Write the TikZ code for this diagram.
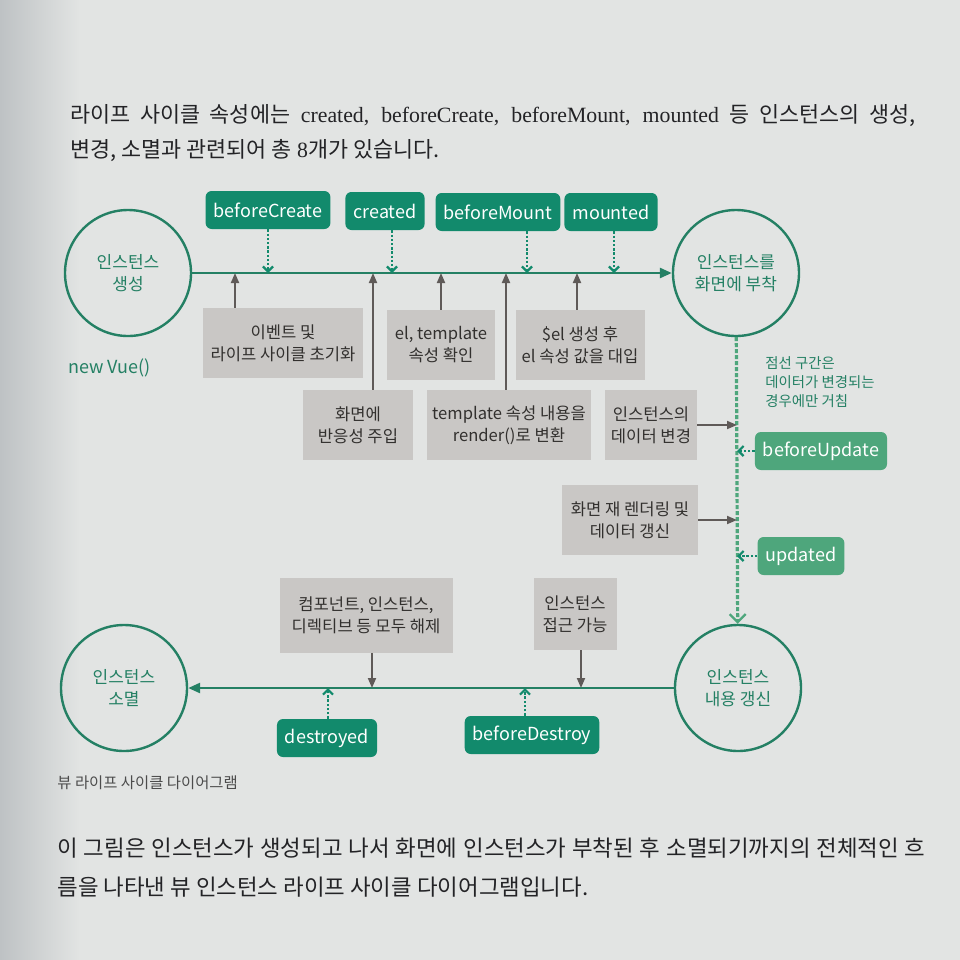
\documentclass[tikz,border=0pt]{standalone}
\usepackage{fontspec}
\setmainfont{Liberation Serif}
\newfontfamily\kr{Noto Sans CJK KR}
\usetikzlibrary{arrows.meta, positioning}
\definecolor{paper}{RGB}{226,228,227}
\definecolor{paperdark}{RGB}{190,194,196}
\definecolor{hookgreen}{RGB}{18,138,108}
\definecolor{hooklight}{RGB}{78,166,124}
\definecolor{ringgreen}{RGB}{36,128,100}
\definecolor{boxgray}{RGB}{201,199,197}
\definecolor{boxtext}{RGB}{50,48,46}
\definecolor{arrowgray}{RGB}{95,90,88}
\definecolor{bodytext}{RGB}{35,35,38}

\begin{document}
\begin{tikzpicture}[x=0.5pt, y=-0.5pt,
    ring/.style={circle, draw=ringgreen, line width=1.2pt, minimum size=63pt, inner sep=0pt, align=center, text=ringgreen, font=\kr\fontsize{8.5}{11}\selectfont},
    hook/.style={rectangle, rounded corners=3pt, fill=hookgreen, text=white, minimum height=19pt, inner xsep=4pt, inner ysep=0pt, font=\kr\fontsize{9}{11}\selectfont},
    hooklt/.style={hook, fill=hooklight},
    stepbox/.style={rectangle, fill=boxgray, text=boxtext, align=center, minimum height=35pt, inner sep=1pt, font=\kr\fontsize{8.3}{11}\selectfont},
    flow/.style={line width=1.3pt, draw=ringgreen, -{Triangle[length=6pt,width=5pt]}},
    push/.style={line width=0.9pt, draw=arrowgray, -{Triangle[length=5pt,width=4pt]}},
    hookarrow/.style={line width=1.1pt, draw=hookgreen, dash pattern=on 1.2pt off 0.9pt, -{Straight Barb[length=2.5pt,width=5pt]}},
    update/.style={line width=1.6pt, draw=hooklight, dash pattern=on 2pt off 1pt, -{Straight Barb[length=4pt,width=8pt,line width=1.2pt]}},
    bodyline/.style={anchor=base west, inner sep=0pt, text=bodytext}
]
    % Page
    \fill[paper] (0,0) rectangle (960,960);
    \shade[left color=paperdark, right color=paper] (0,0) rectangle (80,960);

    % Body text
    \node[bodyline, font=\fontsize{10.9}{12}\selectfont] (intro1) at (70,122) {\makebox[422.5pt][s]{{\kr 라이프 사이클 속성에는} created, beforeCreate, beforeMount, mounted {\kr 등 인스턴스의 생성,}}};
    \node[bodyline, font=\fontsize{10.9}{12}\selectfont] (intro2) at (70,157) {{\kr 변경, 소멸과 관련되어 총} 8{\kr 개가 있습니다.}};
    \node[bodyline, font=\kr\fontsize{11.2}{12}\selectfont] (outro1) at (57,856) {\makebox[434pt][s]{이 그림은 인스턴스가 생성되고 나서 화면에 인스턴스가 부착된 후 소멸되기까지의 전체적인 흐}};
    \node[bodyline, font=\kr\fontsize{11.2}{12}\selectfont] (outro2) at (57,895) {름을 나타낸 뷰 인스턴스 라이프 사이클 다이어그램입니다.};
    \node[bodyline, font=\kr\fontsize{7.7}{8}\selectfont, text=black!70] (caption) at (57,788) {뷰 라이프 사이클 다이어그램};

    % States
    \node[ring] (create) at (128,273) {인스턴스\\생성};
    \node[ring] (mount) at (736,273) {인스턴스를\\화면에 부착};
    \node[ring] (refresh) at (738,688) {인스턴스\\내용 갱신};
    \node[ring] (destroy) at (124,688) {인스턴스\\소멸};
    \node[anchor=west, inner sep=0pt, text=ringgreen, font=\kr\fontsize{9}{10}\selectfont] (newvue) at (68,368) {new Vue()};

    % Main flow
    \draw[flow] (create) -- (mount);
    \draw[update] (mount) -- (refresh);
    \draw[flow] (refresh) -- (destroy);

    % Lifecycle hooks
    \node[hook] (bcreate) at (268,210) {beforeCreate};
    \node[hook] (created) at (385,211) {created};
    \node[hook] (bmount) at (498,212) {beforeMount};
    \node[hook] (mounted) at (611,212) {mounted};
    \node[hooklt] (bupdate) at (821,451) {beforeUpdate};
    \node[hooklt] (updated) at (801,556) {updated};
    \node[hook] (bdestroy) at (532,735) {beforeDestroy};
    \node[hook] (destroyed) at (327,738) {destroyed};

    % Steps
    \node[stepbox, minimum width=80pt] (init) at (283,343) {이벤트 및\\라이프 사이클 초기화};
    \node[stepbox, minimum width=55pt] (react) at (358,425) {화면에\\반응성 주입};
    \node[stepbox, minimum width=54pt] (check) at (441,345) {el, template\\속성 확인};
    \node[stepbox, minimum width=82pt] (render) at (509,425) {template 속성 내용을\\render()로 변환};
    \node[stepbox, minimum width=64.5pt] (elset) at (580,345) {\$el 생성 후\\el 속성 값을 대입};
    \node[stepbox, minimum width=46pt] (datachg) at (651,425) {인스턴스의\\데이터 변경};
    \node[stepbox, minimum width=68pt] (rerender) at (630,520) {화면 재 렌더링 및\\데이터 갱신};
    \node[stepbox, minimum width=86.5pt, minimum height=37.5pt] (teardown) at (366,615) {컴포넌트, 인스턴스,\\디렉티브 등 모두 해제};
    \node[stepbox, minimum width=41.5pt, minimum height=36pt] (access) at (575,614) {인스턴스\\접근 가능};

    % Note
    \node[anchor=north west, align=left, inner sep=0pt, text=ringgreen, font=\kr\fontsize{7.2}{9.5}\selectfont] (note) at (765,356) {점선 구간은\\데이터가 변경되는\\경우에만 거침};

    % Points on the flow lines
    \coordinate (inInit) at (235,273);
    \coordinate (inReact) at (373,273);
    \coordinate (inCheck) at (441,273);
    \coordinate (inRender) at (506,273);
    \coordinate (inElset) at (577,273);
    \coordinate (inBcreate) at (268,273);
    \coordinate (inCreated) at (392,273);
    \coordinate (inBmount) at (527,273);
    \coordinate (inMounted) at (614,273);
    \coordinate (inDatachg) at (737,425);
    \coordinate (inRerender) at (737,520);
    \coordinate (inBupdate) at (737,451);
    \coordinate (inUpdated) at (737,556);
    \coordinate (inTeardown) at (372,688);
    \coordinate (inAccess) at (581,688);
    \coordinate (inDestroyed) at (328,688);
    \coordinate (inBdestroy) at (525,688);

    % Hook connectors
    \draw[hookarrow] (bcreate.south -| inBcreate) -- (inBcreate);
    \draw[hookarrow] (created.south -| inCreated) -- (inCreated);
    \draw[hookarrow] (bmount.south -| inBmount) -- (inBmount);
    \draw[hookarrow] (mounted.south -| inMounted) -- (inMounted);
    \draw[hookarrow] (bupdate.west) -- (inBupdate);
    \draw[hookarrow] (updated.west) -- (inUpdated);
    \draw[hookarrow] (destroyed.north -| inDestroyed) -- (inDestroyed);
    \draw[hookarrow] (bdestroy.north -| inBdestroy) -- (inBdestroy);

    % Step connectors
    \draw[push] (init.north -| inInit) -- (inInit);
    \draw[push] (react.north -| inReact) -- (inReact);
    \draw[push] (check.north -| inCheck) -- (inCheck);
    \draw[push] (render.north -| inRender) -- (inRender);
    \draw[push] (elset.north -| inElset) -- (inElset);
    \draw[push] (datachg.east) -- (inDatachg);
    \draw[push] (rerender.east) -- (inRerender);
    \draw[push] (teardown.south -| inTeardown) -- (inTeardown);
    \draw[push] (access.south -| inAccess) -- (inAccess);
\end{tikzpicture}
\end{document}
